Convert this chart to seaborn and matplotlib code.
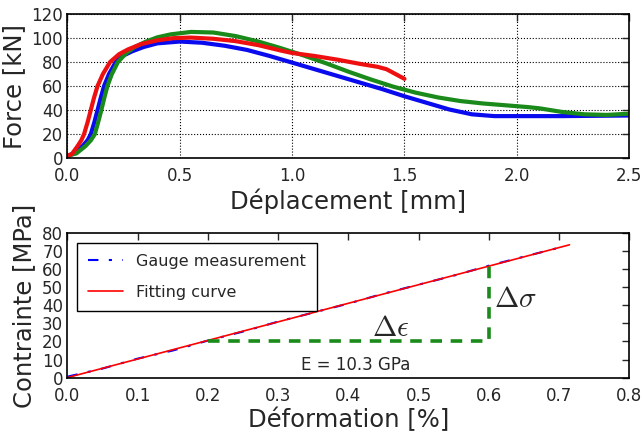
import numpy as np
import pandas as pd
import seaborn as sns
import matplotlib
matplotlib.use("Agg")
import matplotlib.pyplot as plt

# top panel: force vs displacement (3 specimens)
disp_blue = [0.0, 0.03, 0.067, 0.09, 0.104, 0.12, 0.134, 0.148, 0.163, 0.185, 0.215, 0.25, 0.29,
             0.34, 0.4, 0.5, 0.6, 0.7, 0.8, 0.9, 1.0, 1.1, 1.2, 1.3, 1.4, 1.5, 1.6, 1.7,
             1.8, 1.9, 2.0, 2.2, 2.5]
force_blue = [2, 4, 10, 15, 20, 30, 40, 50, 60, 70, 80, 85.5, 89,
              92.5, 95.5, 97, 96, 93.5, 90, 85, 79.5, 74, 68.5, 63, 57.5, 51.5, 46, 40.5,
              36.5, 35, 35, 35, 35.5]
disp_green = [0.0, 0.04, 0.08, 0.105, 0.122, 0.137, 0.151, 0.164, 0.178, 0.198, 0.225, 0.26,
              0.3, 0.35, 0.4, 0.46, 0.55, 0.65, 0.75, 0.85, 0.95, 1.05, 1.15, 1.25, 1.35,
              1.45, 1.55, 1.65, 1.75, 1.85, 1.95, 2.05, 2.1, 2.2, 2.3, 2.4, 2.5]
force_green = [2, 4, 10, 15, 20, 30, 40, 50, 60, 70, 80, 87, 92.5, 97, 100.5, 103, 105, 104.5,
               101.5, 97, 91.5, 85.5, 79, 72, 65.5, 59.5, 54.5, 50.5, 47.5, 45.5, 44,
               42.5, 41.5, 38.5, 36.5, 36, 37]
disp_red = [0.0, 0.02, 0.045, 0.062, 0.074, 0.09, 0.104, 0.118, 0.134, 0.158, 0.19, 0.23, 0.27,
            0.33, 0.4, 0.47, 0.55, 0.65, 0.75, 0.85, 0.95, 1.0, 1.1, 1.2, 1.3, 1.38, 1.42,
            1.46, 1.5]
force_red = [2, 3.5, 10, 15, 20, 30, 40, 50, 60, 70, 80, 86.5, 90.5,
             95, 98, 99.8, 100.3, 99.3, 97.3, 94, 89.5, 87.5, 85, 82, 78.5, 76, 74, 70, 66]

# bottom panel: stress vs strain
strain_gauge = [0.0, 0.05, 0.1, 0.15, 0.2, 0.25, 0.3, 0.35, 0.4, 0.45, 0.5, 0.55, 0.6, 0.65, 0.7]
stress_gauge = [0.5, 5, 10.5, 15, 20.5, 25.5, 31, 36, 41, 46.5, 51.5, 56.5, 62, 67, 72]
strain_fit = [0.0, 0.715]
stress_fit = [0.0, 73.6]
tri_x = [0.2, 0.6, 0.6]
tri_y = [20, 20, 62]

sns.set_style("white")
plt.rcParams["font.family"] = ["DejaVu Sans"]
plt.rcParams["mathtext.fontset"] = "cm"
plt.rcParams["xtick.direction"] = "in"
plt.rcParams["ytick.direction"] = "in"

fig, (ax1, ax2) = plt.subplots(2, 1, figsize=(6.42, 4.34), dpi=100)
fig.subplots_adjust(left=0.105, right=0.98, top=0.968, bottom=0.13, hspace=0.52)

sns.lineplot(x=disp_blue, y=force_blue, color="#0a0aee", lw=3, ax=ax1, sort=False)
sns.lineplot(x=disp_green, y=force_green, color="#1a8a1a", lw=3, ax=ax1, sort=False)
sns.lineplot(x=disp_red, y=force_red, color="#ee1010", lw=3, ax=ax1, sort=False)
ax1.set_xlim(0, 2.5)
ax1.set_ylim(0, 120)
ax1.set_xticks([0.0, 0.5, 1.0, 1.5, 2.0, 2.5])
ax1.set_yticks(range(0, 121, 20))
ax1.grid(True, color="black", ls=":", lw=0.8)
ax1.set_xlabel("Déplacement [mm]", fontsize=17.5, labelpad=2)
ax1.set_ylabel("Force [kN]", fontsize=17.5)

sns.lineplot(x=strain_gauge, y=stress_gauge, color="blue", lw=1.5, ls=(0, (5, 5, 1.5, 5)),
             ax=ax2, label="Gauge measurement", sort=False)
sns.lineplot(x=strain_fit, y=stress_fit, color="red", lw=1.2, ax=ax2, label="Fitting curve")
ax2.plot(tri_x, tri_y, color="#1a8a1a", lw=2.6, ls=(0, (3.2, 2.4)))
ax2.text(0.46, 23, r"$\Delta\epsilon$", fontsize=21, ha="center")
ax2.text(0.607, 39, r"$\Delta\sigma$", fontsize=21, ha="left")
ax2.text(0.41, 4, "E = 10.3 GPa", fontsize=12, ha="center")
ax2.set_xlim(0, 0.8)
ax2.set_ylim(0, 80)
ax2.set_xticks(np.arange(0, 0.81, 0.1))
ax2.set_yticks(range(0, 81, 10))
ax2.set_xlabel("Déformation [%]", fontsize=17.5, labelpad=2)
ax2.set_ylabel("Contrainte [MPa]", fontsize=17.5)
ax2.legend(loc="upper left", fontsize=11.5, frameon=True, fancybox=False, edgecolor="black",
           framealpha=1, handlelength=2.2, labelspacing=1.0, borderaxespad=0.6,
           borderpad=0.7)

for ax in (ax1, ax2):
    for s in ax.spines.values():
        s.set_color("black")
        s.set_linewidth(1.2)
    ax.tick_params(labelsize=12, length=5, width=1, top=True, right=True)
    ax.tick_params(axis="x", pad=6.5)
    ax.tick_params(axis="y", pad=3)

fig.savefig("out.png", dpi=100)
